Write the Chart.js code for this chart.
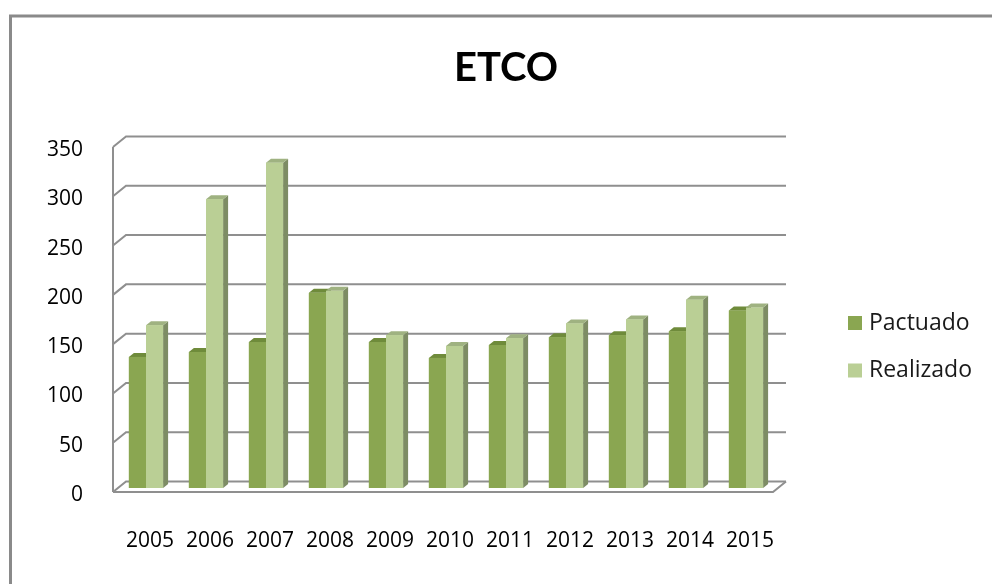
<!DOCTYPE html>
<html>
<head>
<meta charset="utf-8">
<script src="https://cdn.jsdelivr.net/npm/chart.js@4"></script>
<style>
  html, body { margin: 0; padding: 0; background: #fff; }
  #wrap { width: 992px; height: 584px; }
</style>
</head>
<body>
<div id="wrap"><canvas id="c" width="992" height="584"></canvas></div>
<script>
// ETCO: agreed vs. achieved, per year
const years     = ['2005', '2006', '2007', '2008', '2009', '2010', '2011', '2012', '2013', '2014', '2015'];
const pactuado  = [133, 138, 148, 198, 148, 132, 145, 153, 155, 159, 180];
const realizado = [165, 293, 330, 200, 155, 144, 152, 167, 171, 191, 183];
const yMax  = 350;
const yStep = 50;

// face colours of the pseudo-3D columns: front, top, side
const faces = [
  { front: '#8aa651', top: '#6f8b3b', side: '#72824f' },
  { front: '#bacf95', top: '#9fb281', side: '#7d8c64' }
];

const TITLE_FONT = 'Lato, "Open Sans", sans-serif';
const FONT = '"Open Sans", Lato, sans-serif';

// walls, floor and column depth drawn around the flat bar plane
const box3d = {
  id: 'box3d',
  beforeDraw(chart) {
    const ctx = chart.ctx;
    ctx.save();
    ctx.fillStyle = '#fff';
    ctx.fillRect(0, 0, chart.width, chart.height);
    // outer frame
    ctx.strokeStyle = '#8a8a8a';
    ctx.lineWidth = 3;
    ctx.strokeRect(10.5, 16, chart.width + 20, chart.height + 20);
    ctx.restore();
  },
  beforeDatasetsDraw(chart) {
    const ctx = chart.ctx, a = chart.chartArea, ys = chart.scales.y;
    const F = { dx: -3, dy: 4 }, B = { dx: 10, dy: -6.5 };
    ctx.save();
    ctx.strokeStyle = '#8f8f8f';
    ctx.lineWidth = 2;
    ys.ticks.forEach(t => {
      const py = ys.getPixelForValue(t.value);
      ctx.beginPath();
      ctx.moveTo(a.left + F.dx, py + F.dy);
      ctx.lineTo(a.left + B.dx, py + B.dy);
      ctx.lineTo(a.right + B.dx, py + B.dy);
      ctx.stroke();
    });
    // left wall front edge
    ctx.beginPath();
    ctx.moveTo(a.left + F.dx, ys.getPixelForValue(yMax) + F.dy);
    ctx.lineTo(a.left + F.dx, a.bottom + F.dy);
    ctx.stroke();
    // floor front edge and right edge
    ctx.beginPath();
    ctx.moveTo(a.left + F.dx, a.bottom + F.dy);
    ctx.lineTo(a.right + F.dx, a.bottom + F.dy);
    ctx.lineTo(a.right + B.dx, a.bottom + B.dy);
    ctx.stroke();
    ctx.restore();
  },
  afterDatasetsDraw(chart) {
    const ctx = chart.ctx;
    const dx = 5, dy = -4;
    const metas = chart.data.datasets.map((d, i) => chart.getDatasetMeta(i));
    ctx.save();
    for (let i = 0; i < chart.data.labels.length; i++) {
      metas.forEach((meta, di) => {
        const el = meta.data[i];
        if (!el) return;
        const p = el.getProps(['x', 'y', 'base', 'width'], true);
        const l = p.x - p.width / 2, r = p.x + p.width / 2;
        const c = faces[di];
        // side face
        ctx.fillStyle = c.side;
        ctx.beginPath();
        ctx.moveTo(r, p.y);
        ctx.lineTo(r + dx, p.y + dy);
        ctx.lineTo(r + dx, p.base + dy);
        ctx.lineTo(r, p.base);
        ctx.closePath();
        ctx.fill();
        // top face
        ctx.fillStyle = c.top;
        ctx.beginPath();
        ctx.moveTo(l, p.y);
        ctx.lineTo(l + dx, p.y + dy);
        ctx.lineTo(r + dx, p.y + dy);
        ctx.lineTo(r, p.y);
        ctx.closePath();
        ctx.fill();
        // front face on top of anything behind it
        ctx.fillStyle = c.front;
        ctx.fillRect(l, p.y, r - l, p.base - p.y);
      });
    }
    ctx.restore();
  },
  afterDraw(chart) {
    const ctx = chart.ctx;
    ctx.save();
    ctx.font = '23px ' + FONT;
    ctx.textBaseline = 'middle';
    ctx.textAlign = 'left';
    chart.data.datasets.forEach((d, i) => {
      const cy = 323 + i * 47.5;
      ctx.fillStyle = faces[i].front;
      ctx.fillRect(848, cy - 7, 14, 14);
      ctx.fillStyle = '#1a1a1a';
      ctx.fillText(d.label, 869, cy);
    });
    ctx.restore();
  }
};

new Chart(document.getElementById('c'), {
  type: 'bar',
  data: {
    labels: years,
    datasets: [
      { label: 'Pactuado',  data: pactuado,  backgroundColor: faces[0].front },
      { label: 'Realizado', data: realizado, backgroundColor: faces[1].front }
    ]
  },
  options: {
    responsive: false,
    animation: false,
    devicePixelRatio: 1,
    layout: { padding: { left: 20, right: 0, top: 0, bottom: 0 } },
    datasets: { bar: { categoryPercentage: 0.57, barPercentage: 1.0 } },
    plugins: {
      legend: { display: false },
      tooltip: { enabled: false },
      title: {
        display: true,
        text: 'ETCO',
        color: '#000',
        font: { family: TITLE_FONT, size: 40, weight: 'bold', lineHeight: 1.2 },
        padding: { top: 44, bottom: 51 }
      }
    },
    scales: {
      x: {
        grid: { display: false, drawTicks: false },
        border: { display: false },
        ticks: { color: '#000', font: { family: FONT, size: 21 }, padding: 40, labelOffset: 4, maxRotation: 0, autoSkip: false },
        afterFit(s) { s.height = 96; }
      },
      y: {
        min: 0, max: yMax,
        grid: { display: false, drawTicks: false },
        border: { display: false },
        ticks: { stepSize: yStep, color: '#000', font: { family: FONT, size: 21 }, padding: 33, labelOffset: 7 },
        afterFit(s) { s.width = 96; }
      },
      yR: {
        position: 'right',
        grid: { display: false, drawTicks: false },
        border: { display: false },
        ticks: { display: false },
        afterFit(s) { s.width = 216; }
      }
    }
  },
  plugins: [box3d]
});
</script>
</body>
</html>
